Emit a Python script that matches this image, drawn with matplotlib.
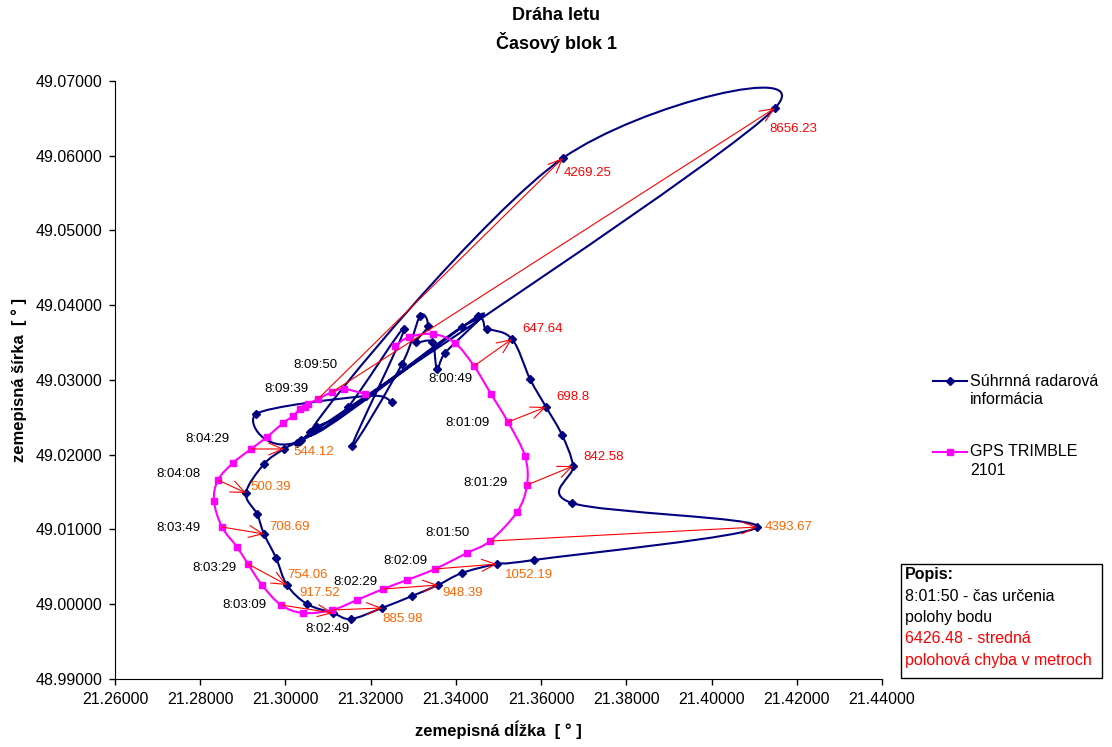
import numpy as np
import matplotlib
matplotlib.use("Agg")
import matplotlib.pyplot as plt
from matplotlib.path import Path
from matplotlib.patches import PathPatch, Rectangle
from matplotlib.lines import Line2D

plt.rcParams['font.family'] = ['Liberation Sans', 'DejaVu Sans']

# GPS TRIMBLE 2101 track (lon, lat)
gps_lon = [21.32571, 21.32900, 21.33463, 21.33979, 21.34425, 21.34824, 21.35223,
           21.35622, 21.35669, 21.35435, 21.34801, 21.34261, 21.33510, 21.32853,
           21.32290, 21.31680, 21.31093, 21.30412, 21.29896, 21.29450, 21.29121,
           21.28863, 21.28511, 21.28323, 21.28417, 21.28769, 21.29192, 21.29567,
           21.29943, 21.30178, 21.30342, 21.30459, 21.30530, 21.30764, 21.31093,
           21.31374, 21.31867]
gps_lat = [49.03455, 49.03575, 49.03615, 49.03495, 49.03187, 49.02813, 49.02438,
           49.01983, 49.01595, 49.01234, 49.00846, 49.00686, 49.00472, 49.00324,
           49.00204, 49.00057, 48.99923, 48.99883, 48.99990, 49.00257, 49.00538,
           49.00766, 49.01033, 49.01381, 49.01662, 49.01890, 49.02077, 49.02237,
           49.02425, 49.02518, 49.02612, 49.02639, 49.02679, 49.02746, 49.02839,
           49.02880, 49.02813]

# Súhrnná radarová informácia (lon, lat)
radar_lon = [21.32501, 21.31891, 21.29309, 21.30342, 21.34144, 21.34730, 21.35317,
             21.35740, 21.36115, 21.36491, 21.36749, 21.36725, 21.41067, 21.35833,
             21.34965, 21.34144, 21.33580, 21.32970, 21.32266, 21.31539, 21.31116,
             21.30506, 21.30037, 21.29779, 21.29497, 21.29333, 21.29074, 21.29497,
             21.29966, 21.30365, 21.30741, 21.31468, 21.32783, 21.31562, 21.32736,
             21.33158, 21.33346, 21.33064, 21.33440, 21.33557, 21.33745, 21.34519,
             21.30577, 21.36514, 21.41490, 21.30271]
radar_lat = [49.02706, 49.02786, 49.02545, 49.02184, 49.03709, 49.03682, 49.03548,
             49.03013, 49.02639, 49.02264, 49.01849, 49.01354, 49.01033, 49.00592,
             49.00538, 49.00418, 49.00257, 49.00110, 48.99950, 48.99803, 48.99883,
             49.00003, 49.00257, 49.00619, 49.00940, 49.01207, 49.01488, 49.01876,
             49.02077, 49.02197, 49.02371, 49.02639, 49.03682, 49.02117, 49.03214,
             49.03856, 49.03722, 49.03508, 49.03508, 49.03147, 49.03361, 49.03856,
             49.02304, 49.05970, 49.06639, 49.02157]

# labelled pairs: time, GPS position, radar position, error [m]
times = ["8:00:49", "8:01:09", "8:01:29", "8:01:50", "8:02:09", "8:02:29", "8:02:49",
         "8:03:09", "8:03:29", "8:03:49", "8:04:08", "8:04:29", "8:09:39", "8:09:50"]
errors = ["647.64", "698.8", "842.58", "4393.67", "1052.19", "948.39", "885.98",
          "917.52", "754.06", "708.69", "500.39", "544.12", "4269.25", "8656.23"]
pair_gps_lon = [21.34425, 21.35223, 21.35669, 21.34801, 21.33510, 21.32290, 21.31093,
                21.29896, 21.29121, 21.28511, 21.28417, 21.29192, 21.30764, 21.31093]
pair_gps_lat = [49.03187, 49.02438, 49.01595, 49.00846, 49.00472, 49.00204, 48.99923,
                48.99990, 49.00538, 49.01033, 49.01662, 49.02077, 49.02746, 49.02839]
pair_rad_lon = [21.35317, 21.36115, 21.36749, 21.41067, 21.34965, 21.33580, 21.32266,
                21.31116, 21.30037, 21.29497, 21.29074, 21.29966, 21.36514, 21.41490]
pair_rad_lat = [49.03548, 49.02639, 49.01849, 49.01033, 49.00538, 49.00257, 48.99950,
                48.99883, 49.00257, 49.00940, 49.01488, 49.02077, 49.05970, 49.06639]

# label placement (pixels) and colours
time_off = [(-2, -13), (-18, -1), (-19, 2), (-20, 8), (-8, 8), (-6, 7), (-5, -19),
            (-15, 0), (-11, -4), (-21, -1), (-17, 6), (-22, 10), (-10, 10), (5, 27)]
err_off = [(10, 10), (10, 10), (10, 9), (8, 0), (8, -11), (4, -8), (0, -11),
           (-34, 20), (0, 10), (5, 7), (4, 6), (9, -3), (1, -15), (-6, -21)]
RED = "#FF0000"
ORANGE = "#FF6600"
err_col = [RED, RED, RED, ORANGE, ORANGE, ORANGE, ORANGE, ORANGE, ORANGE, ORANGE,
           ORANGE, ORANGE, RED, RED]

NAVY = "#000080"
MAGENTA = "#FF00FF"


def smooth_path(xs, ys):
    # Excel-like smoothed line: Catmull-Rom segments as cubic Beziers
    p = np.column_stack([xs, ys])
    q = np.vstack([p[0], p, p[-1]])
    verts = [p[0]]
    codes = [Path.MOVETO]
    for i in range(1, len(q) - 2):
        c1 = q[i] + (q[i + 1] - q[i - 1]) / 6
        c2 = q[i + 1] - (q[i + 2] - q[i]) / 6
        verts += [c1, c2, q[i + 1]]
        codes += [Path.CURVE4] * 3
    return Path(verts, codes)


fig = plt.figure(figsize=(11.12, 7.47), dpi=100)
ax = fig.add_axes([0.10342, 0.09103, 0.68975, 0.80054])

ax.add_patch(PathPatch(smooth_path(radar_lon, radar_lat), facecolor="none",
                       edgecolor=NAVY, lw=1.5, zorder=2))
ax.plot(radar_lon, radar_lat, linestyle="none", marker="D", ms=4, color=NAVY, zorder=3)
ax.add_patch(PathPatch(smooth_path(gps_lon, gps_lat), facecolor="none",
                       edgecolor=MAGENTA, lw=1.5, zorder=2))
ax.plot(gps_lon, gps_lat, linestyle="none", marker="s", ms=5, color=MAGENTA, zorder=3)

for i in range(len(times)):
    ax.annotate("", xy=(pair_rad_lon[i], pair_rad_lat[i]),
                xytext=(pair_gps_lon[i], pair_gps_lat[i]),
                arrowprops=dict(arrowstyle="->,head_length=1.0,head_width=0.43",
                                color=RED, lw=0.8, shrinkA=0, shrinkB=0),
                zorder=4)
    ha = "center" if times[i] == "8:02:49" else "right"
    ax.annotate(times[i], xy=(pair_gps_lon[i], pair_gps_lat[i]),
                xytext=time_off[i], textcoords="offset pixels",
                ha=ha, va="center", fontsize=9.5, color="black", zorder=5)
    ax.annotate(errors[i], xy=(pair_rad_lon[i], pair_rad_lat[i]),
                xytext=err_off[i], textcoords="offset pixels",
                ha="left", va="center", fontsize=9.5, color=err_col[i], zorder=5)

ax.set_xlim(21.26, 21.44)
ax.set_ylim(48.99, 49.07)
ax.set_xticks(np.arange(21.26, 21.4401, 0.02))
ax.set_yticks(np.arange(48.99, 49.0701, 0.01))
ax.xaxis.set_major_formatter(plt.FuncFormatter(lambda v, p: f"{v:.5f}"))
ax.yaxis.set_major_formatter(plt.FuncFormatter(lambda v, p: f"{v:.5f}"))
ax.tick_params(direction="out", length=4, width=1, labelsize=11.5, pad=5)
for s in ("top", "right"):
    ax.spines[s].set_visible(False)
ax.set_xlabel("zemepisná dĺžka  [ ° ]", fontsize=12, fontweight="bold", labelpad=10)
ax.set_ylabel("zemepisná šírka  [ ° ]", fontsize=12, fontweight="bold", labelpad=6)

fig.text(0.5, 0.9786, "Dráha letu", ha="center", va="center", fontsize=13, fontweight="bold")
fig.text(0.5, 0.9425, "Časový blok 1", ha="center", va="center", fontsize=13, fontweight="bold")

# legend
W, H = 1112, 747
def fx(px):
    return px / W
def fy(py):
    return 1 - py / H

fig.add_artist(Line2D([fx(933), fx(967)], [fy(381), fy(381)], color=NAVY, lw=1.5))
fig.add_artist(Line2D([fx(950)], [fy(381)], marker="D", ms=4, color=NAVY))
fig.text(fx(970), fy(381), "Súhrnná radarová", ha="left", va="center", fontsize=11.5)
fig.text(fx(970), fy(400), "informácia", ha="left", va="center", fontsize=11.5)
fig.add_artist(Line2D([fx(933), fx(967)], [fy(452), fy(452)], color=MAGENTA, lw=1.5))
fig.add_artist(Line2D([fx(950)], [fy(452)], marker="s", ms=5, color=MAGENTA))
fig.text(fx(970), fy(452), "GPS TRIMBLE", ha="left", va="center", fontsize=11.5)
fig.text(fx(970), fy(470), "2101", ha="left", va="center", fontsize=11.5)

# description box
fig.add_artist(Rectangle((fx(901), fy(678)), fx(1102) - fx(901), fy(564) - fy(678),
                         facecolor="white", edgecolor="black", lw=1))
lines = [("Popis:", "black", "bold"), ("8:01:50 - čas určenia", "black", "normal"),
         ("polohy bodu", "black", "normal"), ("6426.48 - stredná", RED, "normal"),
         ("polohová chyba v metroch", RED, "normal")]
for k, (t, c, w) in enumerate(lines):
    fig.text(fx(905), fy(575 + k * 21.3), t, ha="left", va="center", fontsize=11.5,
             color=c, fontweight=w)

fig.savefig("out.png", dpi=100)
